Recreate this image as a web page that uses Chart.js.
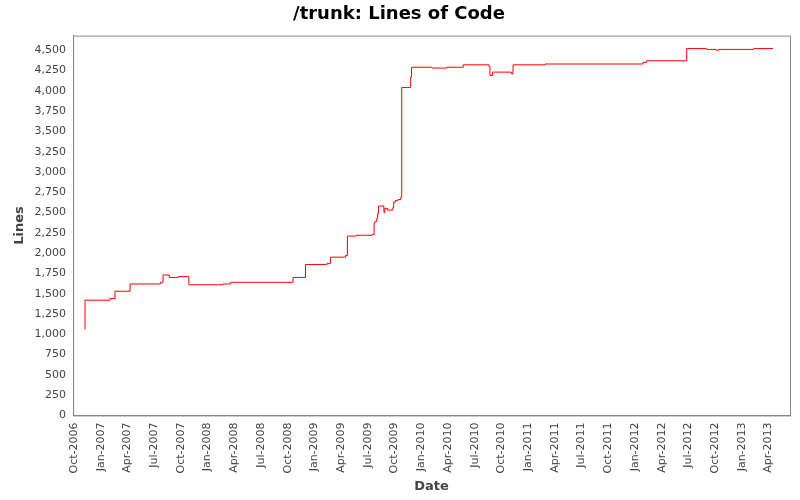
<!DOCTYPE html>
<html>
<head>
<meta charset="utf-8">
<script src="https://cdn.jsdelivr.net/npm/chart.js@4/dist/chart.umd.min.js"></script>
<style>
  html, body { margin: 0; padding: 0; background: #fff; }
  #wrap { width: 800px; height: 500px; }
</style>
</head>
<body>
<div id="wrap"><canvas id="chart-loc" width="800" height="500"></canvas></div>
<script>
// ---------------------------------------------
// Data (x = months since Oct-2006)
// ---------------------------------------------

const tickLabels = [
  "Oct-2006", "Jan-2007", "Apr-2007", "Jul-2007", "Oct-2007", "Jan-2008", "Apr-2008",
  "Jul-2008", "Oct-2008", "Jan-2009", "Apr-2009", "Jul-2009", "Oct-2009", "Jan-2010",
  "Apr-2010", "Jul-2010", "Oct-2010", "Jan-2011", "Apr-2011", "Jul-2011", "Oct-2011",
  "Jan-2012", "Apr-2012", "Jul-2012", "Oct-2012", "Jan-2013", "Apr-2013"
];

const months = [
  1.24, 4.05, 4.6, 6.3, 9.7, 10.0, 10.7, 11.7, 12.9, 16.7, 17.6, 24.6, 26.0, 28.4, 28.8,
  30.5, 30.7, 31.7, 33.5, 33.7, 33.8, 34.0, 34.1, 34.2, 34.8, 34.9, 35.2, 35.8, 35.9,
  36.1, 36.4, 36.7, 36.8, 37.8, 37.9, 40.2, 41.8, 43.7, 46.6, 46.7, 47.0, 49.1, 49.3,
  52.9, 63.9, 64.3, 68.8, 71.0, 72.1, 72.4, 76.3, 78.5
];

const lines = [
  1060, 1420, 1440, 1530, 1620, 1640, 1730, 1700, 1710, 1610, 1620, 1640, 1700, 1860, 1870,
  1950, 1970, 2210, 2220, 2230, 2370, 2390, 2430, 2490, 2580, 2500, 2550, 2530, 2560,
  2630, 2650, 2660, 2690, 4040, 4170, 4290, 4280, 4290, 4320, 4300, 4190, 4230, 4210,
  4320, 4330, 4350, 4370, 4520, 4510, 4500, 4510, 4520
];

// ---------------------------------------------
// Helpers
// ---------------------------------------------

const textColor = "#444";
const axisColor = "#888";

const plotFrame = {
  id: "plotFrame",
  afterDraw(chart) {
    const { ctx, chartArea: a } = chart;
    ctx.save();
    ctx.strokeStyle = axisColor;
    ctx.lineWidth = 1;
    ctx.strokeRect(a.left + 0.5, a.top + 0.5, a.right - a.left, a.bottom - a.top);
    ctx.restore();
  }
};

// ---------------------------------------------
// Build chart
// ---------------------------------------------

new Chart(document.getElementById("chart-loc"), {
  type: "line",
  data: {
    datasets: [{
      label: "Lines",
      data: months.map((m, i) => ({ x: m, y: lines[i] })),
      borderColor: "#ff0000",
      borderWidth: 1,
      stepped: "after",
      pointRadius: 0
    }]
  },
  options: {
    responsive: false,
    animation: false,
    layout: { padding: { left: 8, right: 10, top: 0, bottom: 2 } },
    plugins: {
      legend: { display: false },
      tooltip: { enabled: false },
      title: {
        display: true,
        text: "/trunk: Lines of Code",
        color: "#000",
        font: { family: "DejaVu Sans", size: 18, weight: "bold" },
        padding: { top: 4, bottom: 10 }
      }
    },
    scales: {
      x: {
        type: "linear",
        min: -0.1,
        max: 80.4,
        afterBuildTicks(scale) {
          scale.ticks = tickLabels.map((_, i) => ({ value: i * 3 }));
        },
        grid: { display: false, drawTicks: true, tickLength: 4, tickColor: axisColor },
        border: { color: axisColor },
        ticks: {
          color: textColor,
          font: { family: "DejaVu Sans", size: 11 },
          maxRotation: 90,
          minRotation: 90,
          autoSkip: false,
          callback: v => tickLabels[Math.round(v / 3)]
        },
        title: {
          display: true,
          text: "Date",
          color: textColor,
          font: { family: "DejaVu Sans", size: 13, weight: "bold" },
          padding: { top: 2 }
        }
      },
      y: {
        min: 0,
        max: 4680,
        afterBuildTicks(scale) {
          const t = [];
          for (let v = 0; v <= 4500; v += 250) t.push({ value: v });
          scale.ticks = t;
        },
        grid: { display: false, drawTicks: true, tickLength: 4, tickColor: axisColor },
        border: { color: axisColor },
        ticks: {
          color: textColor,
          font: { family: "DejaVu Sans", size: 11 },
          callback: v => v.toLocaleString("en-US")
        },
        title: {
          display: true,
          text: "Lines",
          color: textColor,
          font: { family: "DejaVu Sans", size: 13, weight: "bold" }
        }
      }
    }
  },
  plugins: [plotFrame]
});
</script>
</body>
</html>
